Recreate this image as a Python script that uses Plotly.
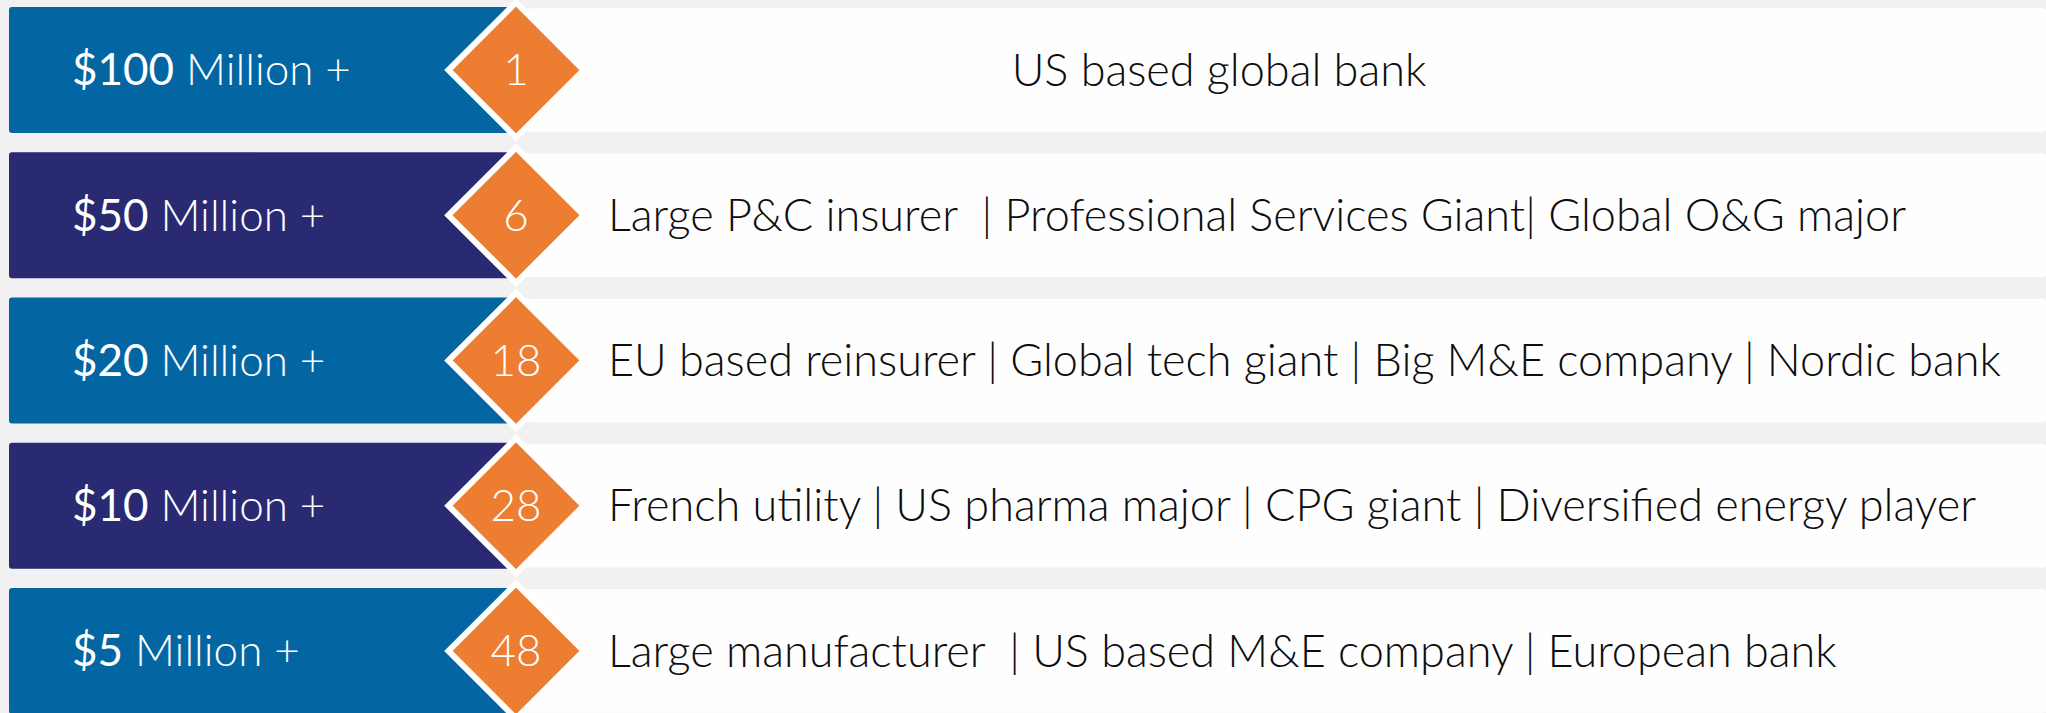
import plotly.graph_objects as go

# tiers, client counts and example clients per tier
tiers = ["$100", "$50", "$20", "$10", "$5"]
tier_suffix = "Million +"
client_counts = [1, 6, 18, 28, 48]
client_examples = [
    "US based global bank",
    "Large P&C insurer\u00a0\u00a0| Professional Services Giant| Global O&G major",
    "EU based reinsurer | Global tech giant | Big M&E company | Nordic bank",
    "French utility | US pharma major | CPG giant | Diversified energy player",
    "Large manufacturer\u00a0\u00a0| US based M&E company | European bank",
]

tier_colors = ["#0366a3", "#2a2a72", "#0366a3", "#2a2a72", "#0366a3"]
orange = "#ed7d31"
bg = "#f1f1f1"
font = "Lato"

W, H = 2046, 713
rows = list(range(len(tiers)))
text_rows = [r + 0.03 for r in rows]  # nudge text down to sit centred
diamond_x = 516

fig = go.Figure()

# white band on the right
fig.add_trace(go.Bar(
    y=rows, x=[W - 500] * len(rows), base=500, orientation="h",
    width=0.85, marker=dict(color="#fefefe", line=dict(width=0)),
    hoverinfo="skip"
))

# coloured tier box on the left
fig.add_trace(go.Bar(
    y=rows, x=[diamond_x - 9] * len(rows), base=9, orientation="h",
    width=0.867, marker=dict(color=tier_colors, line=dict(width=0)),
    hoverinfo="skip"
))

# orange diamonds
fig.add_trace(go.Scatter(
    x=[diamond_x] * len(rows), y=rows, mode="markers",
    marker=dict(symbol="diamond", size=104, color=orange,
                line=dict(color="white", width=6)),
    cliponaxis=False, hoverinfo="skip"
))

# counts inside the diamonds
fig.add_trace(go.Scatter(
    x=[diamond_x] * len(rows), y=text_rows, mode="text",
    text=[str(c) for c in client_counts],
    textposition="middle center",
    textfont=dict(family=font, size=44, color="white", weight=300),
    cliponaxis=False, hoverinfo="skip"
))

# tier labels
fig.add_trace(go.Scatter(
    x=[72] * len(rows), y=text_rows, mode="text",
    text=[f"<span style='font-weight:400'>{t}</span> {tier_suffix}" for t in tiers],
    textposition="middle right",
    textfont=dict(family=font, size=44, color="white", weight=300),
    cliponaxis=False, hoverinfo="skip"
))

# client examples
pos_x = [1219 if i == 0 else 608 for i in rows]
pos_t = ["middle center" if i == 0 else "middle right" for i in rows]
fig.add_trace(go.Scatter(
    x=pos_x, y=text_rows, mode="text",
    text=client_examples, textposition=pos_t,
    textfont=dict(family=font, size=45, color="#0d0d0d", weight=300),
    cliponaxis=False, hoverinfo="skip"
))

fig.update_layout(
    width=W, height=H,
    margin=dict(l=0, r=0, t=0, b=0),
    paper_bgcolor=bg, plot_bgcolor=bg,
    barmode="overlay", barcornerradius=3,
    showlegend=False,
    xaxis=dict(range=[0, W], visible=False, fixedrange=True),
    yaxis=dict(range=[4.427, -0.482], visible=False, fixedrange=True),
)

fig.write_html(
    "out.html",
    config={"displayModeBar": False},
    post_script="document.body.style.margin='0px';",
)
